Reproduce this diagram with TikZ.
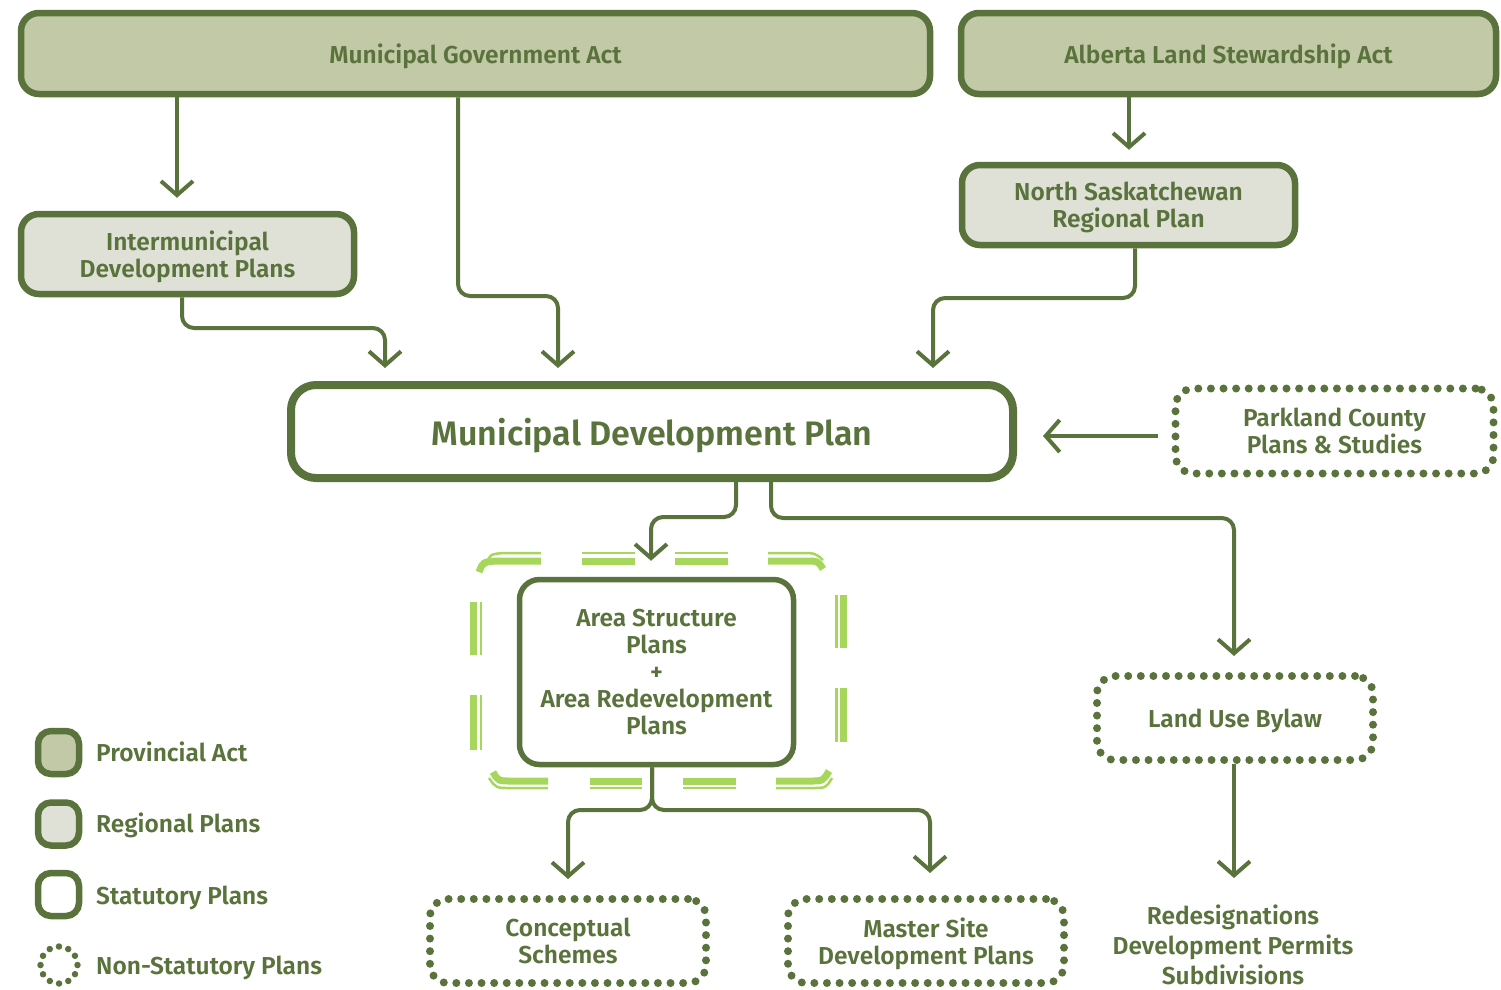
\documentclass[tikz,border=0pt]{standalone}
\usepackage{fontspec}
\setmainfont{Fira Sans}[UprightFont=* SemiBold, BoldFont=* Bold]
\usetikzlibrary{arrows.meta}
\definecolor{dg}{RGB}{90,115,60}
\definecolor{provfill}{RGB}{194,201,166}
\definecolor{regfill}{RGB}{223,224,214}
\definecolor{lg}{RGB}{166,214,92}
\begin{document}
\begin{tikzpicture}[x=1pt,y=-1pt,
 box/.style={draw=dg, line width=6.5pt, rounded corners=18pt, align=center, text=dg, font=\fontsize{24.5}{27}\selectfont, inner sep=0pt, text depth=0pt},
 prov/.style={box, fill=provfill},
 reg/.style={box, fill=regfill},
 stat/.style={box, fill=white},
 nonstat/.style={box, line width=8pt, dash pattern=on 0pt off 12.6pt, line cap=round},
 arr/.style={draw=dg, line width=4pt, rounded corners=12pt, -{Straight Barb[length=14pt,width=32pt]}},
 lgthick/.style={draw=lg, line width=7pt},
 lgthin/.style={draw=lg, line width=2.5pt},
 lab/.style={text=dg, font=\fontsize{24.5}{27}\selectfont, anchor=west, inner sep=0pt}
]
\useasboundingbox (0,0) rectangle (1501,989);

% provincial acts
\node[prov, minimum width=909pt, minimum height=81pt] (mga) at (475.5,53.5) {Municipal Government Act};
\node[prov, minimum width=535pt, minimum height=81pt] (alsa) at (1228.5,53.5) {Alberta Land Stewardship Act};
% regional plans
\node[reg, minimum width=333pt, minimum height=80pt] (idp) at (187.5,254) {Intermunicipal\\Development Plans};
\node[reg, minimum width=333pt, minimum height=80pt] (nsrp) at (1128.5,205) {North Saskatchewan\\Regional Plan};
% MDP
\node[stat, line width=8pt, rounded corners=25pt, minimum width=722pt, minimum height=93pt, font=\fontsize{34}{38}\selectfont] (mdp) at (652,431.5) {Municipal Development Plan};
\node[nonstat, minimum width=318pt, minimum height=85pt] (park) at (1334.5,431) {Parkland County\\Plans \& Studies};

% green dashed double outline
\draw[lgthick] (479,572) .. controls (483,562) .. (496,561) -- (541,561);
\draw[lgthick] (582,561) -- (635,561);
\draw[lgthick] (675,561) -- (728,561);
\draw[lgthick] (768,561) -- (805,561) .. controls (818,561) .. (823,569);
\draw[lgthick] (473,602) -- (473,655);
\draw[lgthick] (473,695) -- (473,750);
\draw[lgthick] (843.5,595) -- (843.5,648);
\draw[lgthick] (843.5,688) -- (843.5,742);
\draw[lgthick] (493,772) .. controls (498,781) .. (512,781) -- (548,781);
\draw[lgthick] (590,781) -- (642,781);
\draw[lgthick] (683,781) -- (736,781);
\draw[lgthick] (776,781) -- (810,781) .. controls (823,781) .. (829,771);
\draw[lgthin] (486,566) .. controls (490,554) .. (504,553) -- (541,553);
\draw[lgthin] (582,553) -- (635,553);
\draw[lgthin] (675,553) -- (728,553);
\draw[lgthin] (768,553) -- (800,553) .. controls (815,553) .. (823,560);
\draw[lgthin] (481,602) -- (481,655);
\draw[lgthin] (481,695) -- (481,750);
\draw[lgthin] (836.5,595) -- (836.5,648);
\draw[lgthin] (836.5,688) -- (836.5,742);
\draw[lgthin] (489,778) .. controls (496,788) .. (510,788) -- (548,788);
\draw[lgthin] (590,788) -- (642,788);
\draw[lgthin] (683,788) -- (736,788);
\draw[lgthin] (776,788) -- (812,788) .. controls (826,788) .. (832,778);

\node[stat, line width=5.5pt, rounded corners=20pt, minimum width=274pt, minimum height=185pt] (asp) at (656.5,672) {Area Structure\\Plans\\+\\Area Redevelopment\\Plans};
\node[nonstat, minimum width=276pt, minimum height=84pt] (lub) at (1235,718) {Land Use Bylaw};
\node[nonstat, minimum width=276pt, minimum height=84pt] (cs) at (568,941) {Conceptual\\Schemes};
\node[nonstat, minimum width=276pt, minimum height=84pt] (msdp) at (926,941) {Master Site\\Development Plans};
\node[text=dg, align=center, inner sep=0pt, text depth=0pt, font=\fontsize{24.5}{30}\selectfont] (out) at (1233,945) {Redesignations\\Development Permits\\Subdivisions};

% connectors
\draw[arr, shorten >=13pt] (mga.south -| 177,0) -- (idp.north -| 177,0);
\draw[arr, shorten >=13pt] (mga.south -| 458,0) -- (458,296) -- (558,296) -- (mdp.north -| 558,0);
\draw[arr, shorten >=13pt] (idp.south -| 182,0) -- (182,328) -- (385,328) -- (mdp.north -| 385,0);
\draw[arr, shorten >=12pt] (alsa.south -| 1129,0) -- (nsrp.north -| 1129,0);
\draw[arr, shorten >=13pt] (nsrp.south -| 1135,0) -- (1135,298) -- (933,298) -- (mdp.north -| 933,0);
\draw[arr, shorten <=14pt, shorten >=26pt] (park.west |- 0,436) -- (mdp.east |- 0,436);
\draw[arr, shorten >=16pt] (mdp.south -| 736,0) -- (736,517) -- (651,517) -- (asp.north -| 651,0);
\draw[arr, shorten >=16pt] (mdp.south -| 771,0) -- (771,518) -- (1234,518) -- (lub.north -| 1234,0);
\draw[arr, shorten >=16pt] (asp.south -| 652,0) -- (652,810) -- (568,810) -- (cs.north -| 568,0);
\draw[arr, shorten >=22pt] (asp.south -| 652,0) -- (652,810) -- (930,810) -- (msdp.north -| 930,0);
\draw[arr] (lub.south -| 1234,0) -- (1234,878);

% legend
\node[prov, minimum width=41pt, minimum height=43pt, rounded corners=13pt] (lprov) at (58.5,752.5) {};
\node[reg, minimum width=41pt, minimum height=43pt, rounded corners=13pt] (lreg) at (58.5,824) {};
\node[stat, minimum width=41pt, minimum height=43pt, rounded corners=13pt] (lstat) at (58.5,894.5) {};
\node[draw=dg, circle, line width=6.5pt, line cap=round, dash pattern=on 0pt off 9.68pt, minimum size=37pt, inner sep=0pt] (lnon) at (59,965) {};
\node[lab] (tprov) at (96,752) {Provincial Act};
\node[lab] (treg) at (96,825) {Regional Plans};
\node[lab] (tstat) at (96,898) {Statutory Plans};
\node[lab] (tnon) at (96,968) {Non-Statutory Plans};
\end{tikzpicture}
\end{document}
